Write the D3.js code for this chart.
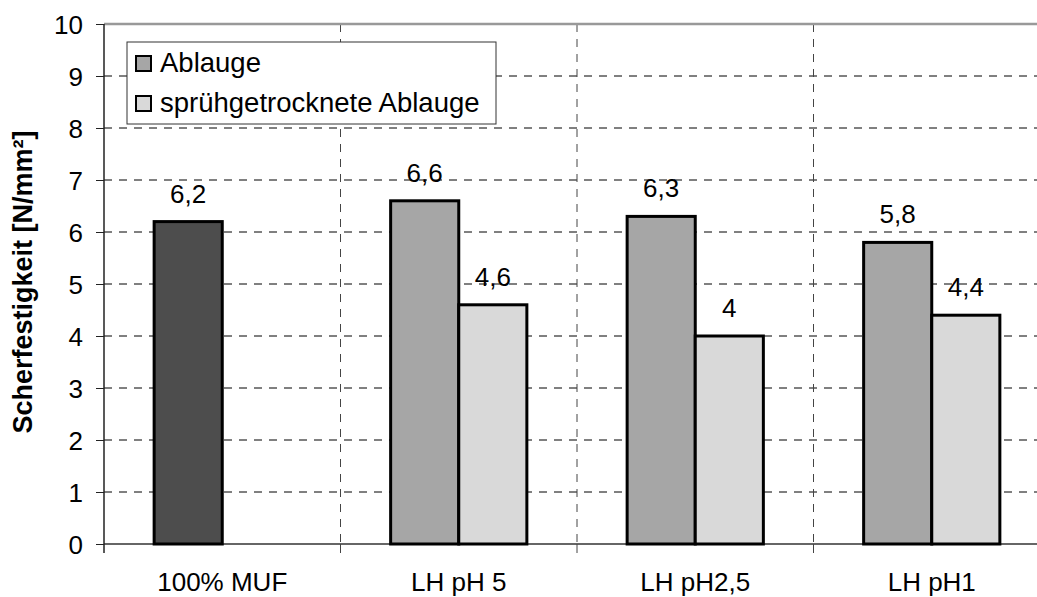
<!DOCTYPE html>
<html>
<head>
<meta charset="utf-8">
<script src="https://cdn.jsdelivr.net/npm/d3@7"></script>
<style>
  body { margin: 0; background: #fff; }
  text { font-family: "Liberation Sans", Arial, sans-serif; }
</style>
</head>
<body>
<script>
const canvWidth = 1037, canvHeight = 597;
const margin = {top: 24, right: -13, bottom: 53, left: 104};

const categories = ["100% MUF", "LH pH 5", "LH pH2,5", "LH pH1"];
const ablauge = [6.2, 6.6, 6.3, 5.8];
const spruehgetrocknet = [null, 4.6, 4.0, 4.4];
const seriesNames = ["Ablauge", "sprühgetrocknete Ablauge"];
const yTicks = [0, 1, 2, 3, 4, 5, 6, 7, 8, 9, 10];

const colors = {ref: "#4d4d4d", ablauge: "#a6a6a6", spray: "#d9d9d9"};

const width = canvWidth - margin.left - margin.right;
const height = canvHeight - margin.top - margin.bottom;

const svg = d3.select("body").append("svg")
    .attr("width", canvWidth)
    .attr("height", canvHeight);

const g = svg.append("g")
    .attr("transform", `translate(${margin.left},${margin.top})`);

const xScale = d3.scaleBand().domain(categories).range([0, width]);
const xSub = d3.scaleBand().domain([0, 1])
    .range([xScale.bandwidth() * 0.212, xScale.bandwidth() * 0.788]);
const yScale = d3.scaleLinear().domain([0, 10]).range([height, 0]);

// horizontal grid
g.selectAll(".hgrid")
    .data(yTicks.filter(d => d > 0 && d < 10))
    .enter().append("line")
    .attr("x1", 0).attr("x2", width)
    .attr("y1", d => yScale(d)).attr("y2", d => yScale(d))
    .attr("stroke", "#000").attr("stroke-width", 1)
    .attr("stroke-dasharray", "8,7");

// vertical grid at category boundaries
const bounds = categories.slice(1).map(c => xScale(c));
g.selectAll(".vgrid")
    .data(bounds)
    .enter().append("line")
    .attr("x1", d => d).attr("x2", d => d)
    .attr("y1", 0).attr("y2", height)
    .attr("stroke", "#444").attr("stroke-width", 1)
    .attr("stroke-dasharray", "8,7");

// top border
g.append("line")
    .attr("x1", 0).attr("x2", width)
    .attr("y1", 0).attr("y2", 0)
    .attr("stroke", "#999").attr("stroke-width", 2.5);

// x axis line + ticks
g.append("line")
    .attr("x1", 0).attr("x2", width)
    .attr("y1", height).attr("y2", height)
    .attr("stroke", "#666").attr("stroke-width", 2);
g.selectAll(".xtick")
    .data(bounds)
    .enter().append("line")
    .attr("x1", d => d).attr("x2", d => d)
    .attr("y1", height).attr("y2", height + 9)
    .attr("stroke", "#444").attr("stroke-width", 1);

// bars
const barData = [];
categories.forEach((c, i) => {
    barData.push({cat: c, slot: 0, value: ablauge[i], fill: i === 0 ? colors.ref : colors.ablauge});
    if (spruehgetrocknet[i] != null)
        barData.push({cat: c, slot: 1, value: spruehgetrocknet[i], fill: colors.spray});
});

g.selectAll("rect.bar")
    .data(barData)
    .enter().append("rect")
    .attr("class", "bar")
    .attr("x", d => xScale(d.cat) + xSub(d.slot))
    .attr("y", d => yScale(d.value))
    .attr("width", xSub.bandwidth())
    .attr("height", d => height - yScale(d.value))
    .attr("fill", d => d.fill)
    .attr("stroke", "#000").attr("stroke-width", 3);

g.selectAll("text.val")
    .data(barData)
    .enter().append("text")
    .attr("class", "val")
    .attr("x", d => xScale(d.cat) + xSub(d.slot) + xSub.bandwidth() / 2)
    .attr("y", d => yScale(d.value) - 19)
    .attr("text-anchor", "middle")
    .attr("font-size", "26px")
    .text(d => String(d.value).replace(".", ","));

// y axis
const yAxis = d3.axisLeft(yScale).tickValues(yTicks).tickSize(8).tickPadding(13);
const ya = g.append("g").call(yAxis);
ya.select(".domain").attr("stroke", "#222").attr("stroke-width", 1.5)
    .attr("d", `M0,0V${height + 9}`);
ya.selectAll(".tick line").attr("stroke", "#222");
ya.selectAll(".tick text")
    .attr("font-size", "26px")
    .attr("font-family", "Liberation Sans, Arial, sans-serif")
    .attr("fill", "#000")
    .attr("dy", "0.36em");

// category labels
g.selectAll("text.cat")
    .data(categories)
    .enter().append("text")
    .attr("class", "cat")
    .attr("x", d => xScale(d) + xScale.bandwidth() / 2)
    .attr("y", height + 47)
    .attr("text-anchor", "middle")
    .attr("font-size", "26px")
    .text(d => d);

// y axis title
svg.append("text")
    .attr("transform", `translate(32,${margin.top + height / 2 - 2}) rotate(-90)`)
    .attr("text-anchor", "middle")
    .attr("font-size", "27px")
    .attr("font-weight", "bold")
    .text("Scherfestigkeit [N/mm²]");

// legend
const legend = svg.append("g").attr("transform", "translate(127,42)");
legend.append("rect")
    .attr("width", 369).attr("height", 82)
    .attr("fill", "#fff")
    .attr("stroke", "#333").attr("stroke-width", 1);
const legendColors = [colors.ablauge, colors.spray];
seriesNames.forEach((name, i) => {
    const row = legend.append("g").attr("transform", `translate(0,${21 + i * 40})`);
    row.append("rect")
        .attr("x", 9).attr("y", -7).attr("width", 15).attr("height", 15)
        .attr("fill", legendColors[i])
        .attr("stroke", "#000").attr("stroke-width", 2);
    row.append("text")
        .attr("x", 33).attr("y", 9)
        .attr("font-size", "27.5px")
        .text(name);
});
</script>
</body>
</html>
